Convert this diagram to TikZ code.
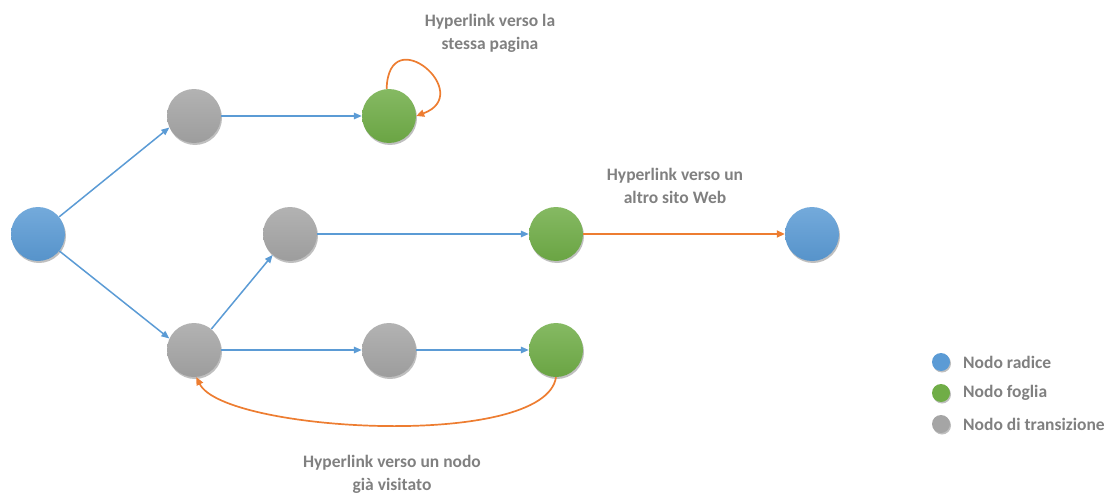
\documentclass[tikz,border=0pt]{standalone}
\usepackage{fontspec}
\setmainfont{Carlito}
\usetikzlibrary{arrows.meta,shadows}
\definecolor{oblue}{HTML}{5B9BD5}
\definecolor{ogreen}{HTML}{70AD47}
\definecolor{ogray}{HTML}{A5A5A5}
\definecolor{oorange}{HTML}{ED7D31}
\definecolor{txtgray}{HTML}{808080}
\tikzset{
  vert/.style={circle, minimum size=54pt, inner sep=0pt,
    drop shadow={shadow xshift=1pt, shadow yshift=-2pt, opacity=0.25, fill=black}},
  rootn/.style={vert, top color=oblue!85!white, bottom color=oblue!95!black},
  leafn/.style={vert, top color=ogreen!85!white, bottom color=ogreen!95!black},
  transn/.style={vert, top color=ogray!85!white, bottom color=ogray!95!black},
  legdot/.style={circle, minimum size=18pt, inner sep=0pt,
    drop shadow={shadow xshift=1pt, shadow yshift=-1.5pt, opacity=0.25, fill=black}},
  blink/.style={draw=oblue, line width=1.5pt, -{Triangle[length=8pt,width=6.5pt]}},
  olink/.style={draw=oorange, line width=1.7pt, -{Triangle[length=8pt,width=7pt]}},
  lbl/.style={text=txtgray, font=\fontsize{17.5}{23}\selectfont\bfseries, align=center},
  legtxt/.style={text=txtgray, font=\fontsize{17.5}{20}\selectfont\bfseries, anchor=west, inner sep=0pt},
}
\begin{document}
\begin{tikzpicture}[x=1pt,y=-1pt]
\useasboundingbox (0,0) rectangle (1113,495);
% nodes
\node[rootn]  (r)  at (38,234)  {};
\node[transn] (g1) at (194,116) {};
\node[leafn]  (l1) at (389,116) {};
\node[transn] (g2) at (290,234) {};
\node[leafn]  (l2) at (556,234) {};
\node[rootn]  (r2) at (812,234) {};
\node[transn] (g3) at (194,350) {};
\node[transn] (g4) at (389,350) {};
\node[leafn]  (l3) at (556,350) {};
% blue links
\draw[blink] (r) -- (g1.-155);
\draw[blink] (r) -- (g3.155);
\draw[blink] (g1) -- (l1);
\draw[blink] (g3) -- (g2);
\draw[blink] (g2) -- (l2);
\draw[blink] (g3) -- (g4);
\draw[blink] (g4) -- (l3);
% orange links
\draw[olink] (l2) -- (r2);
\draw[olink] (l1.95) .. controls +(2,-70) and +(60,-22) .. (l1.east);
\draw[olink] (l3.south) .. controls +(-11,73) and +(27,55) .. (g3.-85);
% labels
\node[lbl] (t1) at (490,33) {Hyperlink verso la\\stessa pagina};
\node[lbl] (t2) at (675,186) {Hyperlink verso un\\altro sito Web};
\node[lbl] (t3) at (392,474) {Hyperlink verso un nodo\\già visitato};
% legend
\node[legdot, fill=oblue]  (d1) at (941,362) {};
\node[legdot, fill=ogreen] (d2) at (941,393) {};
\node[legdot, fill=ogray]  (d3) at (941,424) {};
\node[legtxt] (e1) at (963,362) {Nodo radice};
\node[legtxt] (e2) at (963,393) {Nodo foglia};
\node[legtxt] (e3) at (963,424) {Nodo di transizione};
\end{tikzpicture}
\end{document}
